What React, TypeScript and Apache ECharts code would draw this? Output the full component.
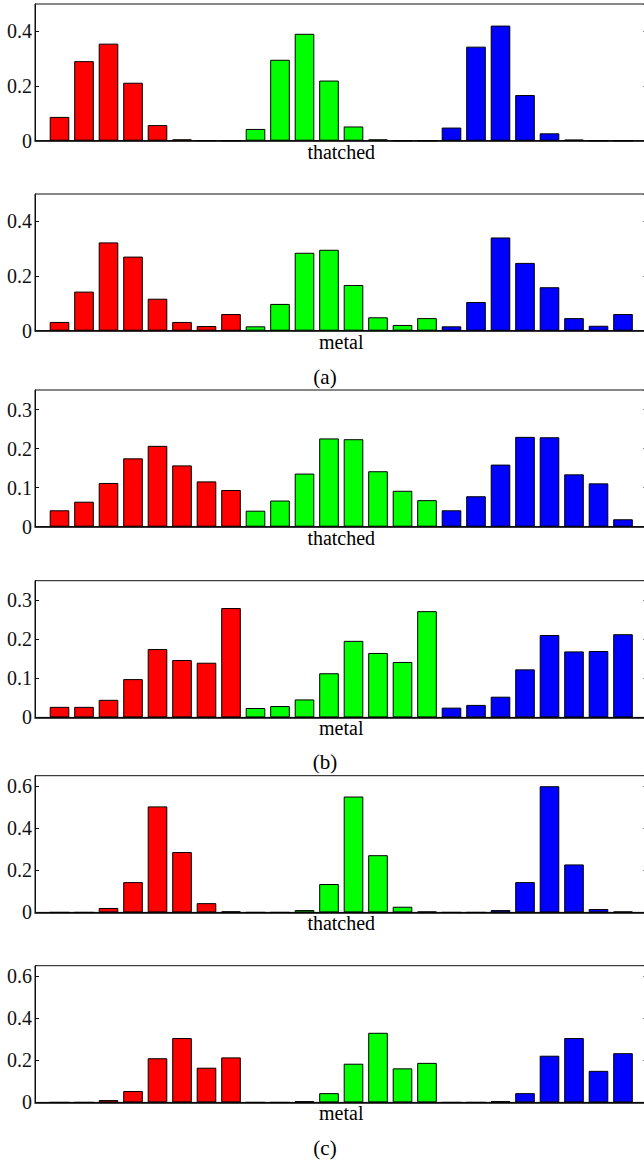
import React, { useEffect, useRef } from "react";
import * as echarts from "echarts";

// ---- data ----
const aThatchedRed = [0.087, 0.291, 0.355, 0.212, 0.057, 0.005, 0.001, 0];
const aThatchedGreen = [0.043, 0.296, 0.391, 0.22, 0.052, 0.005, 0, 0];
const aThatchedBlue = [0.048, 0.344, 0.421, 0.167, 0.027, 0.004, 0, 0];

const aMetalRed = [0.032, 0.143, 0.323, 0.271, 0.117, 0.032, 0.017, 0.061];
const aMetalGreen = [0.016, 0.098, 0.285, 0.296, 0.167, 0.049, 0.021, 0.046];
const aMetalBlue = [0.016, 0.105, 0.341, 0.248, 0.159, 0.046, 0.018, 0.061];

const bThatchedRed = [0.042, 0.064, 0.112, 0.175, 0.207, 0.157, 0.116, 0.094];
const bThatchedGreen = [0.041, 0.067, 0.136, 0.226, 0.224, 0.142, 0.092, 0.068];
const bThatchedBlue = [0.042, 0.078, 0.159, 0.23, 0.229, 0.134, 0.111, 0.019];

const bMetalRed = [0.027, 0.027, 0.045, 0.098, 0.175, 0.147, 0.14, 0.28];
const bMetalGreen = [0.024, 0.029, 0.046, 0.113, 0.196, 0.165, 0.142, 0.272];
const bMetalBlue = [0.025, 0.032, 0.053, 0.123, 0.211, 0.169, 0.17, 0.213];

const cThatchedRed = [0, 0, 0.021, 0.144, 0.504, 0.287, 0.044, 0.005];
const cThatchedGreen = [0, 0, 0.011, 0.135, 0.551, 0.272, 0.027, 0.004];
const cThatchedBlue = [0, 0, 0.011, 0.144, 0.6, 0.228, 0.016, 0.004];

const cMetalRed = [0, 0, 0.011, 0.054, 0.21, 0.306, 0.165, 0.214];
const cMetalGreen = [0, 0, 0.006, 0.044, 0.184, 0.331, 0.162, 0.188];
const cMetalBlue = [0, 0, 0.006, 0.044, 0.222, 0.306, 0.15, 0.234];

const panelLabels = ["thatched", "metal", "thatched", "metal", "thatched", "metal"];
const panelYMax = [0.5, 0.5, 0.35, 0.35, 0.65, 0.65];
const panelYInterval = [0.2, 0.2, 0.1, 0.1, 0.2, 0.2];
const captions = ["(a)", "(b)", "(c)"];

const panelData = [
  [aThatchedRed, aThatchedGreen, aThatchedBlue],
  [aMetalRed, aMetalGreen, aMetalBlue],
  [bThatchedRed, bThatchedGreen, bThatchedBlue],
  [bMetalRed, bMetalGreen, bMetalBlue],
  [cThatchedRed, cThatchedGreen, cThatchedBlue],
  [cMetalRed, cMetalGreen, cMetalBlue],
];
const channelColors = ["#ff0000", "#00ff00", "#0000ff"];

// ---- layout ----
const W = 644;
const H = 1160;
const CHART_W = 660; // wider than the page: the right frame is cropped, as in the reference
const GRID_LEFT = 35;
const GRID_WIDTH = 612.5;
const GRID_HEIGHT = 136.7;
const GRID_TOPS = [4, 194, 390, 580.7, 775.7, 965.7];
const CAPTION_Y = [376.7, 761.7, 1148];
const CAPTION_X = 325;
const FONT = "Liberation Serif";

function buildOption() {
  const grid: any[] = [];
  const xAxis: any[] = [];
  const yAxis: any[] = [];
  const series: any[] = [];

  panelData.forEach((channels, p) => {
    grid.push({
      left: GRID_LEFT,
      top: GRID_TOPS[p],
      width: GRID_WIDTH,
      height: GRID_HEIGHT,
      show: true,
      borderColor: "#111",
      borderWidth: 1,
      backgroundColor: "transparent",
    });
    xAxis.push({
      type: "value",
      gridIndex: p,
      min: 0,
      max: 25,
      name: panelLabels[p],
      nameLocation: "middle",
      nameGap: 1,
      nameTextStyle: { fontFamily: FONT, fontSize: 20, color: "#000" },
      axisLine: { show: true, onZero: false, lineStyle: { color: "#000", width: 1.5 } },
      axisTick: { show: false },
      axisLabel: { show: false },
      splitLine: { show: false },
    });
    const yCommon = {
      type: "value",
      gridIndex: p,
      min: 0,
      max: panelYMax[p],
      interval: panelYInterval[p],
      splitLine: { show: false },
      axisLine: { show: true, lineStyle: { color: "#111", width: 1 } },
      axisTick: { show: true, inside: true, length: 4, lineStyle: { color: "#111" } },
    };
    yAxis.push({
      ...yCommon,
      position: "left",
      axisLabel: {
        show: true,
        showMaxLabel: false,
        margin: 3,
        fontFamily: FONT,
        fontSize: 20,
        color: "#111",
      },
    });
    yAxis.push({
      ...yCommon,
      position: "right",
      axisLabel: { show: false },
    });
    const data: any[] = [];
    channels.forEach((values, c) => {
      values.forEach((v, i) => {
        data.push({
          value: [c * values.length + i + 1, v],
          itemStyle: { color: channelColors[c] },
        });
      });
    });
    series.push({
      type: "bar",
      xAxisIndex: p,
      yAxisIndex: p * 2,
      barWidth: 19.6,
      data,
      itemStyle: { borderColor: "#000", borderWidth: 1 },
      emphasis: { disabled: true },
    });
  });

  const graphic = captions.map((t, i) => ({
    type: "text",
    x: CAPTION_X,
    y: CAPTION_Y[i],
    style: {
      text: t,
      fontFamily: FONT,
      fontSize: 21,
      fill: "#000",
      textAlign: "center",
      textVerticalAlign: "middle",
    },
  }));

  return {
    animation: false,
    backgroundColor: "#fff",
    grid,
    xAxis,
    yAxis,
    series,
    graphic,
  };
}

export default function App() {
  const ref = useRef<HTMLDivElement>(null);
  useEffect(() => {
    document.body.style.margin = "0";
    if (!ref.current) return;
    const chart = echarts.init(ref.current, undefined, { renderer: "svg" });
    chart.setOption(buildOption() as any);
    return () => chart.dispose();
  }, []);
  return (
    <div style={{ width: W, height: H, overflow: "hidden", position: "relative" }}>
      <div ref={ref} style={{ width: CHART_W, height: H }} />
    </div>
  );
}
